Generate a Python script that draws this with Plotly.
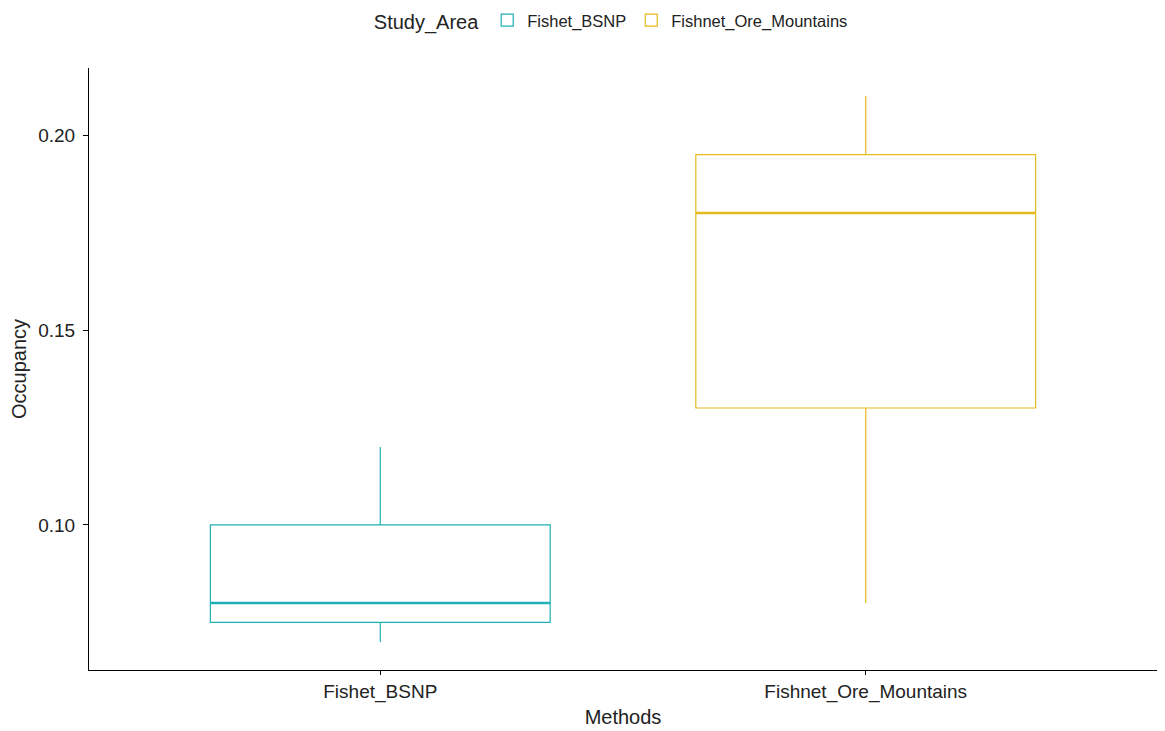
import plotly.graph_objects as go

# Summary statistics of occupancy per study area
areas = ["Fishet_BSNP", "Fishnet_Ore_Mountains"]
lower_whisker = [0.07, 0.08]
q1 = [0.075, 0.13]
median = [0.08, 0.18]
q3 = [0.10, 0.195]
upper_whisker = [0.12, 0.21]
colors = ["#1FB0B8", "#E5BA1C"]

box_width = 0.7
font_family = "Liberation Sans, Arial, sans-serif"
text_color = "#222222"

fig = go.Figure()
for i, area in enumerate(areas):
    fig.add_trace(go.Box(
        name=area,
        x=[area],
        q1=[q1[i]], median=[median[i]], q3=[q3[i]],
        lowerfence=[lower_whisker[i]], upperfence=[upper_whisker[i]],
        width=box_width,
        whiskerwidth=0,
        line=dict(color=colors[i], width=1.2),
        fillcolor="rgba(255,255,255,0)",
        boxpoints=False,
        hoverinfo="y",
    ))
    # thicker median bar
    fig.add_shape(
        type="line", xref="x", yref="y",
        x0=i - box_width / 2, x1=i + box_width / 2,
        y0=median[i], y1=median[i],
        line=dict(color=colors[i], width=2.6),
    )

fig.update_layout(
    width=1165, height=731,
    paper_bgcolor="white", plot_bgcolor="white",
    margin=dict(l=89, r=8, t=68, b=61, autoexpand=False),
    font=dict(family=font_family, color=text_color),
    boxmode="overlay",
    showlegend=True,
    legend=dict(
        orientation="h", x=0.49, xanchor="center", y=1.108, yanchor="top",
        title=dict(text="Study_Area", font=dict(size=20, color=text_color)),
        font=dict(size=16.5, color=text_color),
        itemwidth=30,
    ),
    xaxis=dict(
        type="category",
        categoryorder="array", categoryarray=areas,
        range=[-0.6, 1.6],
        automargin=False,
        showline=True, linecolor="black", linewidth=1,
        ticks="outside", ticklen=4, tickcolor="black",
        tickfont=dict(size=19, color=text_color),
        showgrid=False, zeroline=False,
        title=dict(text="Methods", font=dict(size=20, color=text_color), standoff=8),
    ),
    yaxis=dict(
        range=[0.0628, 0.2172],
        tickvals=[0.10, 0.15, 0.20],
        ticktext=["0.10", "0.15", "0.20"],
        automargin=False,
        showline=True, linecolor="black", linewidth=1,
        ticks="outside", ticklen=5, tickcolor="black",
        tickfont=dict(size=19, color=text_color),
        ticklabelstandoff=4,
        showgrid=False, zeroline=False,
        title=dict(text="Occupancy", font=dict(size=20, color=text_color), standoff=6),
    ),
)

fig.write_html("out.html")
